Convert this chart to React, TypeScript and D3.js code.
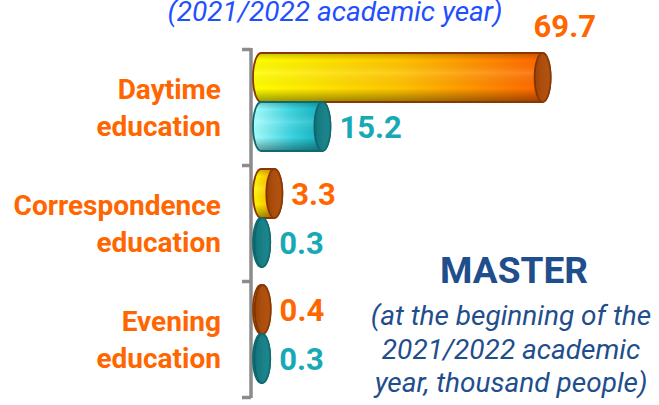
import React from "react";
import * as d3 from "d3";

const categories = ["Daytime education", "Correspondence education", "Evening education"];
const categoryLines = [["Daytime", "education"], ["Correspondence", "education"], ["Evening", "education"]];
const seriesKeys = ["orange", "teal"];
const orangeValues = [69.7, 3.3, 0.4];
const tealValues = [15.2, 0.3, 0.3];
const titleText = "(2021/2022 academic year)";
const noteTitle = "MASTER";
const noteLines = ["(at the beginning of the", "2021/2022 academic", "year, thousand people)"];

const W = 659;
const H = 405;
const FONT = "Roboto, 'Noto Sans', sans-serif";

export default function App() {
  React.useEffect(() => {
    document.body.style.margin = "0";
  }, []);

  const y = d3.scaleBand<string>().domain(categories).range([48, 396]).padding(0);
  const ySub = d3.scaleBand<string>().domain(seriesKeys).range([5, 103]).padding(0);
  const x = d3.scaleLinear().domain([0, 70]).range([253, 253 + 282.8]);
  const rx = 8;
  const maxVal = d3.max(orangeValues.concat(tealValues)) as number;

  const styles: Record<string, any> = {
    orange: { body: "url(#gOrange)", cap: "#b04a04", stroke: "#8a3600", label: "#ff6600" },
    teal: { body: "url(#gTeal)", cap: "#108088", stroke: "#0d6a70", label: "#17a9b6" },
  };

  const bars: any[] = [];
  categories.forEach((c, i) => {
    seriesKeys.forEach((k) => {
      const v = k === "orange" ? orangeValues[i] : tealValues[i];
      const top = (y(c) as number) + (ySub(k) as number);
      const h = ySub.bandwidth();
      bars.push({ c, k, v, top, h });
    });
  });

  return (
    <svg width={W} height={H} style={{ position: "fixed", left: 0, top: 0, background: "#fff" }}>
      <defs>
        <linearGradient id="gOrange" x1="0" y1="0" x2="1" y2="0">
          <stop offset="0" stopColor="#ffff00" />
          <stop offset="0.5" stopColor="#ffc200" />
          <stop offset="0.95" stopColor="#ff6a00" />
        </linearGradient>
        <linearGradient id="gTeal" x1="0" y1="0" x2="1" y2="0">
          <stop offset="0" stopColor="#a8ffff" />
          <stop offset="0.5" stopColor="#3ad4e0" />
          <stop offset="1" stopColor="#0aa8b6" />
        </linearGradient>
        <linearGradient id="gShade" x1="0" y1="0" x2="0" y2="1">
          <stop offset="0" stopColor="#000" stopOpacity="0.22" />
          <stop offset="0.15" stopColor="#000" stopOpacity="0.0" />
          <stop offset="0.4" stopColor="#fff" stopOpacity="0.12" />
          <stop offset="0.72" stopColor="#000" stopOpacity="0.0" />
          <stop offset="1" stopColor="#000" stopOpacity="0.4" />
        </linearGradient>
        <linearGradient id="gCapShade" x1="0" y1="0" x2="1" y2="0">
          <stop offset="0" stopColor="#000" stopOpacity="0.12" />
          <stop offset="1" stopColor="#fff" stopOpacity="0.04" />
        </linearGradient>
      </defs>

      <text x={335} y={21} textAnchor="middle" fontFamily={FONT} fontStyle="italic" fontSize={28} fill="#1f4fff">
        {titleText}
      </text>

      {/* axis */}
      <g stroke="#8c8c8c" strokeWidth={3.5} fill="none">
        <line x1={251} x2={251} y1={48} y2={398} />
        {[...categories.map((c) => y(c) as number), 396].map((t, i) => (
          <line key={i} x1={242} x2={251} y1={t + 1.5} y2={t + 1.5} />
        ))}
      </g>

      {/* category labels */}
      {categories.map((c, i) => {
        const mid = (y(c) as number) + y.bandwidth() / 2;
        return (
          <text key={c} textAnchor="end" fontFamily={FONT} fontWeight={700} fontSize={28} fill="#ff6600">
            <tspan x={221} y={mid - 7}>{categoryLines[i][0]}</tspan>
            <tspan x={221} y={mid + 30}>{categoryLines[i][1]}</tspan>
          </text>
        );
      })}

      {/* bars */}
      {bars.map((b, i) => {
        const s = styles[b.k];
        const x0 = x(0);
        const xe = x(b.v) + rx;
        const ry = b.h / 2;
        const t = b.top;
        const bt = b.top + b.h;
        const p = `M${x0 + rx},${t} L${xe},${t} A${rx},${ry} 0 0 1 ${xe},${bt} L${x0 + rx},${bt} A${rx},${ry} 0 0 1 ${x0 + rx},${t} Z`;
        return (
          <g key={i}>
            <path d={p} fill={s.body} />
            <path d={p} fill="url(#gShade)" stroke={s.stroke} strokeWidth={1.8} />
            <ellipse cx={xe} cy={t + ry} rx={rx} ry={ry} fill={s.cap} stroke={s.stroke} strokeWidth={1.8} />
            <ellipse cx={xe} cy={t + ry} rx={rx} ry={ry} fill="url(#gCapShade)" />
          </g>
        );
      })}

      {/* value labels */}
      {bars.map((b, i) => {
        const s = styles[b.k];
        const xEnd = x(b.v) + 2 * rx;
        const isMax = b.v === maxVal;
        const lx = isMax ? xEnd - 17 : xEnd + 9;
        const ly = isMax ? b.top - 16 : b.top + b.h / 2 + 11;
        return (
          <text key={"l" + i} x={lx} y={ly} fontFamily={FONT} fontWeight={700} fontSize={31} fill={s.label}>
            {b.v.toFixed(1)}
          </text>
        );
      })}

      {/* note */}
      <text x={514} y={283} textAnchor="middle" fontFamily={FONT} fontWeight={700} fontSize={37} fill="#1f4e8c">
        {noteTitle}
      </text>
      {noteLines.map((l, i) => (
        <text key={l} x={511} y={325 + i * 33.5} textAnchor="middle" fontFamily={FONT} fontStyle="italic" fontSize={28} fill="#1f4e8c">
          {l}
        </text>
      ))}
    </svg>
  );
}
